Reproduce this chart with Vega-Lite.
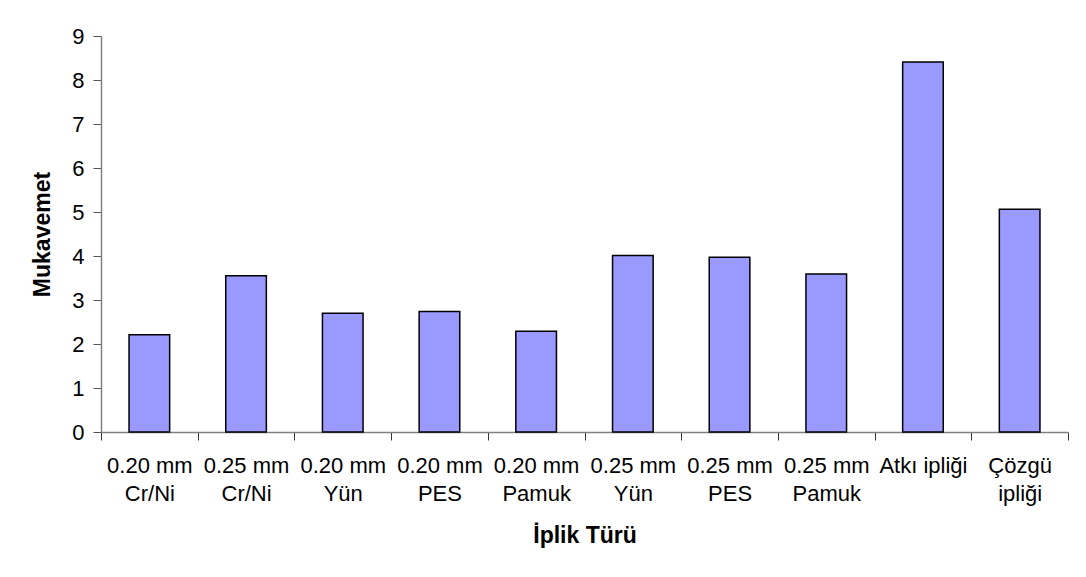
{
  "$schema": "https://vega.github.io/schema/vega-lite/v6.json",
  "width": 967,
  "height": 396,
  "autosize": "none",
  "padding": {"left": 101, "top": 36, "right": 18, "bottom": 145},
  "background": "white",
  "config": {
    "view": {"stroke": null},
    "font": "Liberation Sans"
  },
  "data": {
    "values": [
      {"label": "0.20 mm|Cr/Ni", "value": 2.21},
      {"label": "0.25 mm|Cr/Ni", "value": 3.55},
      {"label": "0.20 mm|Yün", "value": 2.70},
      {"label": "0.20 mm|PES", "value": 2.74},
      {"label": "0.20 mm|Pamuk", "value": 2.29},
      {"label": "0.25 mm|Yün", "value": 4.01},
      {"label": "0.25 mm|PES", "value": 3.97},
      {"label": "0.25 mm|Pamuk", "value": 3.59},
      {"label": "Atkı ipliği", "value": 8.41},
      {"label": "Çözgü|ipliği", "value": 5.06}
    ]
  },
  "mark": {"type": "bar", "fill": "#9999FF", "stroke": "#000000", "strokeWidth": 1.5, "width": {"band": 0.42}},
  "encoding": {
    "x": {
      "field": "label",
      "type": "nominal",
      "sort": null,
      "scale": {"paddingInner": 0, "paddingOuter": 0},
      "axis": {
        "title": "İplik Türü",
        "titleFont": "Liberation Sans",
        "titleFontSize": 23,
        "titleFontWeight": "bold",
        "titleColor": "#000",
        "titlePadding": 20,
        "labelExpr": "datum.value ? split(datum.value, '|') : ''",
        "labelAngle": 0,
        "labelFontSize": 22,
        "labelColor": "#000",
        "labelLineHeight": 28,
        "labelPadding": 15,
        "tickBand": "extent",
        "tickSize": 8,
        "tickColor": "#333",
        "domainColor": "#808080",
        "domainWidth": 1.5,
        "labelOverlap": false,
        "labelBound": false
      }
    },
    "y": {
      "field": "value",
      "type": "quantitative",
      "scale": {"domain": [0, 9], "nice": false},
      "axis": {
        "title": "Mukavemet",
        "titleFont": "Liberation Sans",
        "titleFontSize": 23,
        "titleFontWeight": "bold",
        "titleColor": "#000",
        "titlePadding": 17,
        "values": [0, 1, 2, 3, 4, 5, 6, 7, 8, 9],
        "labelFontSize": 22,
        "labelColor": "#000",
        "labelPadding": 9,
        "tickSize": 8,
        "tickColor": "#555",
        "domainColor": "#808080",
        "domainWidth": 1.5,
        "grid": false
      }
    }
  }
}
